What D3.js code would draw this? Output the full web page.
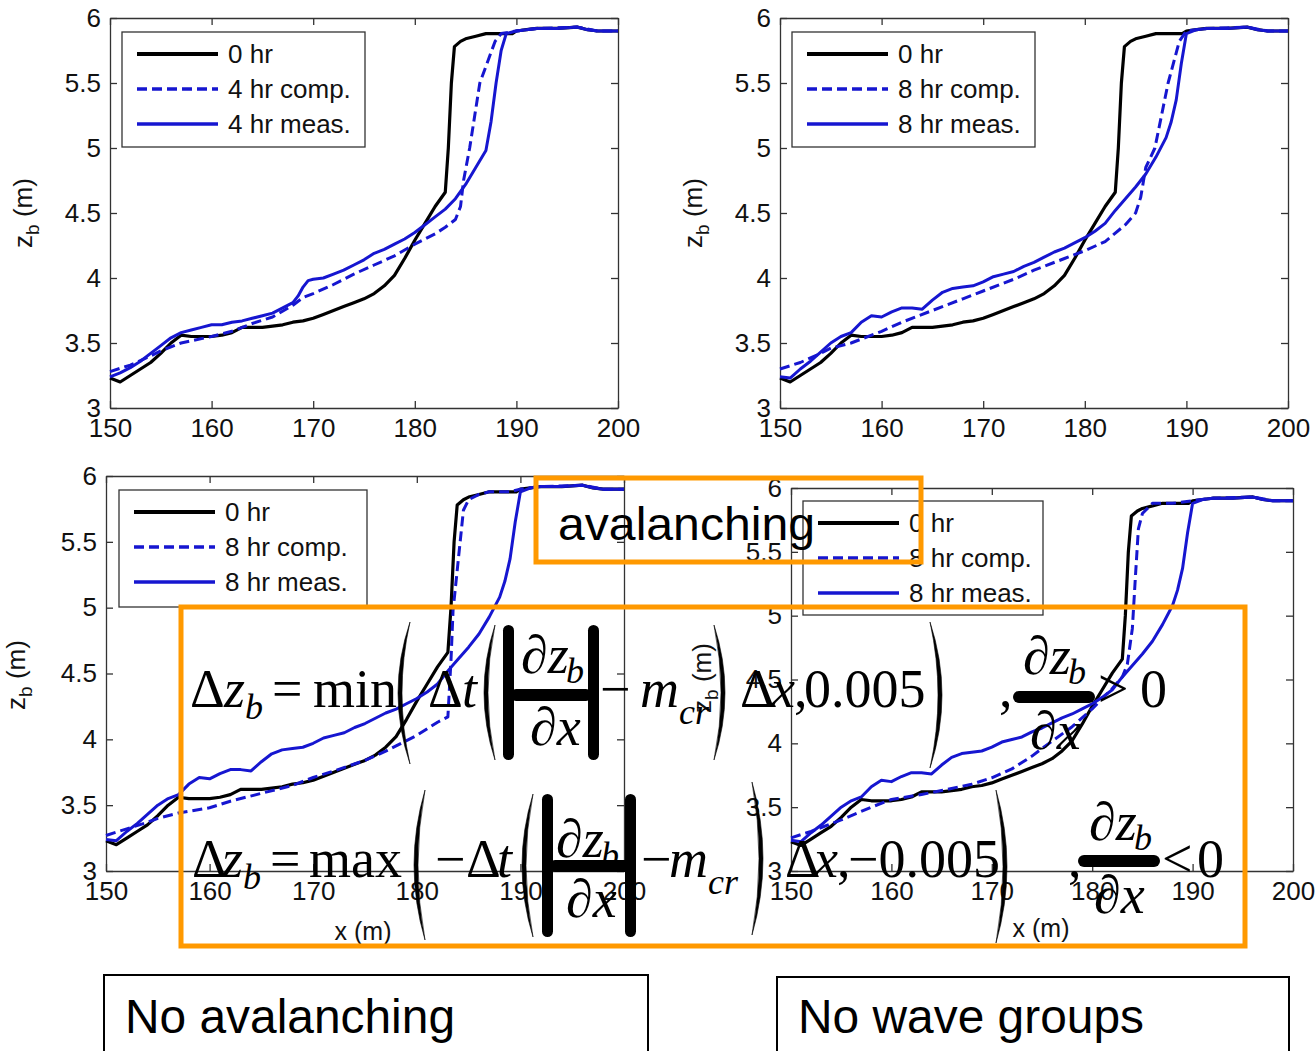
<!DOCTYPE html>
<html>
<head>
<meta charset="utf-8">
<script src="https://cdn.jsdelivr.net/npm/d3@7"></script>
<style>
  body { margin: 0; background: #fff; }
  svg { display: block; }
</style>
</head>
<body>
<svg id="chart" width="1315" height="1051"></svg>
<script>
// ---- data: bed profiles z_b (m) against cross-shore distance x (m) ----
const xTicks = [150, 160, 170, 180, 190, 200];
const zTicks = [3, 3.5, 4, 4.5, 5, 5.5, 6];

// initial profile
const profile0hr = [[150,3.23],[151,3.2],[152,3.25],[153,3.3],[154,3.35],[155,3.42],[156,3.5],[157,3.56],[158,3.55],[159,3.55],[160,3.55],[161,3.56],[162,3.58],[163,3.62],[164,3.62],[165,3.62],[166,3.63],[167,3.64],[168,3.66],[169,3.67],[170,3.69],[171,3.72],[172,3.75],[173,3.78],[174,3.81],[175,3.84],[176,3.88],[177,3.94],[178,4.02],[179,4.15],[180,4.29],[181,4.42],[182,4.55],[183,4.66],[183.3,5.0],[183.6,5.5],[183.9,5.78],[184.5,5.82],[185,5.84],[186,5.86],[187,5.88],[188,5.88],[189,5.88],[189.6,5.88],[190,5.9],[191,5.91],[192,5.92],[194,5.92],[196,5.93],[197,5.91],[198,5.9],[200,5.9]];

// 4 hr, full model
const comp4hr = [[150,3.28],[152,3.33],[154,3.4],[155,3.44],[157,3.5],[160,3.55],[162,3.59],[164,3.65],[166,3.7],[168,3.79],[169,3.85],[170,3.88],[172,3.95],[174,4.03],[176,4.1],[178,4.17],[180,4.26],[182,4.34],[183,4.39],[184,4.45],[184.5,4.55],[184.8,4.75],[185.4,5.0],[186.4,5.5],[187.9,5.82],[188.5,5.88],[190,5.9],[192,5.92],[196,5.93],[198,5.9],[200,5.9]];
const meas4hr = [[150,3.24],[151,3.27],[152,3.31],[153,3.36],[154,3.42],[155,3.48],[156,3.54],[157,3.58],[158,3.6],[159,3.62],[160,3.64],[161,3.64],[162,3.66],[163,3.67],[164,3.69],[165,3.71],[166,3.73],[167,3.77],[168,3.81],[168.5,3.86],[169,3.93],[169.5,3.98],[170,3.99],[171,4.0],[172,4.03],[173,4.06],[174,4.1],[175,4.14],[176,4.19],[177,4.22],[178,4.26],[179,4.3],[180,4.35],[181,4.41],[182,4.47],[183,4.53],[184,4.61],[185,4.72],[186,4.85],[187,4.98],[187.5,5.2],[188,5.5],[188.5,5.75],[189,5.88],[190,5.9],[191,5.91],[192,5.92],[194,5.92],[196,5.93],[197,5.91],[198,5.9],[200,5.9]];

// 8 hr, full model
const comp8hr = [[150,3.3],[152,3.35],[154,3.42],[155,3.46],[157,3.5],[158,3.53],[160,3.59],[162,3.66],[165,3.75],[168,3.84],[170,3.9],[173,3.99],[175,4.06],[178,4.15],[180,4.21],[182,4.28],[184,4.41],[185,4.5],[185.5,4.62],[186,4.85],[186.9,5.0],[188.2,5.5],[189.3,5.82],[190,5.9],[192,5.92],[196,5.93],[198,5.9],[200,5.9]];
const meas8hr = [[150,3.24],[151,3.23],[152,3.3],[153,3.36],[154,3.43],[155,3.5],[156,3.55],[157,3.58],[158,3.66],[159,3.71],[160,3.7],[161,3.74],[162,3.77],[163,3.77],[164,3.76],[165,3.83],[166,3.89],[167,3.92],[168,3.93],[169,3.94],[170,3.97],[171,4.01],[172,4.03],[173,4.05],[174,4.09],[175,4.12],[176,4.16],[177,4.2],[178,4.23],[179,4.27],[180,4.31],[181,4.36],[182,4.42],[183,4.52],[184,4.61],[185,4.7],[186,4.8],[187,4.93],[188,5.08],[188.5,5.2],[189,5.37],[189.5,5.65],[190,5.88],[191,5.91],[192,5.92],[194,5.92],[196,5.93],[197,5.91],[198,5.9],[200,5.9]];

// 8 hr, model without avalanching
const comp8hrNoAval = [[150,3.27],[152,3.32],[154,3.37],[155,3.4],[157,3.44],[160,3.48],[162,3.53],[165,3.59],[168,3.65],[170,3.71],[172,3.76],[175,3.84],[177,3.91],[178,3.95],[180,4.03],[182,4.13],[183,4.17],[183.3,4.6],[183.5,4.98],[184,5.36],[184.5,5.74],[185,5.82],[186,5.86],[187,5.88],[189,5.88],[190,5.9],[192,5.92],[196,5.93],[198,5.9],[200,5.9]];

// 8 hr, model without wave groups
const comp8hrNoGroups = [[150,3.26],[152,3.31],[155,3.4],[158,3.5],[160,3.56],[163,3.6],[165,3.63],[168,3.68],[170,3.73],[172,3.8],[174,3.9],[175,3.96],[178,4.13],[180,4.27],[182,4.43],[183,4.52],[183.5,4.62],[184,4.9],[184.3,5.3],[184.6,5.68],[185,5.8],[186,5.88],[188,5.88],[190,5.9],[192,5.92],[196,5.93],[198,5.9],[200,5.9]];

const legend4 = ["0 hr", "4 hr comp.", "4 hr meas."];
const legend8 = ["0 hr", "8 hr comp.", "8 hr meas."];

// ---- layout ----
const BLUE = "#1616d0";
const ORANGE = "#ff9900";
const SANS = "'Liberation Sans', Arial, Helvetica, sans-serif";
const SERIF = "'Liberation Serif', 'Times New Roman', Times, serif";

const panels = [
  { box: [110, 618, 18, 408], series: [profile0hr, comp4hr, meas4hr], names: legend4,
    legend: [122, 32, 243, 115], ylab: [32, 213], xlab: null },
  { box: [780, 1288, 18, 408], series: [profile0hr, comp8hr, meas8hr], names: legend8,
    legend: [792, 32, 243, 115], ylab: [702, 213], xlab: null },
  { box: [106, 624, 476, 871], series: [profile0hr, comp8hrNoAval, meas8hr], names: legend8,
    legend: [119, 490, 248, 117], ylab: [25, 675], xlab: [363, 940] },
  { box: [791, 1293, 488, 871], series: [profile0hr, comp8hrNoGroups, meas8hr], names: legend8,
    legend: [803, 501, 240, 114], ylab: [711, 678], xlab: [1041, 937] }
];

const styles = [
  { stroke: "#000", width: 3.2, dash: null },
  { stroke: BLUE, width: 3, dash: "10,5" },
  { stroke: BLUE, width: 3, dash: null }
];

const svg = d3.select("#chart");

panels.forEach(p => {
  const [x0, x1, y0, y1] = p.box;
  const x = d3.scaleLinear().domain([150, 200]).range([x0, x1]);
  const y = d3.scaleLinear().domain([3, 6]).range([y1, y0]);
  const g = svg.append("g");

  const fmt = d => String(d);
  g.append("g").attr("transform", `translate(0,${y1})`)
    .call(d3.axisBottom(x).tickValues(xTicks).tickFormat(fmt).tickSizeInner(-7).tickSizeOuter(0).tickPadding(11));
  g.append("g").attr("transform", `translate(${x0},0)`)
    .call(d3.axisLeft(y).tickValues(zTicks).tickFormat(fmt).tickSizeInner(-7).tickSizeOuter(0).tickPadding(9));
  g.append("g").attr("transform", `translate(0,${y0})`)
    .call(d3.axisTop(x).tickValues(xTicks).tickFormat("").tickSizeInner(-7).tickSizeOuter(0));
  g.append("g").attr("transform", `translate(${x1},0)`)
    .call(d3.axisRight(y).tickValues(zTicks).tickFormat("").tickSizeInner(-7).tickSizeOuter(0));
  g.selectAll(".domain, .tick line").attr("stroke", "#333").attr("stroke-width", 1.3);
  g.selectAll(".tick text").attr("font-family", SANS).attr("font-size", 26).attr("fill", "#111");

  const line = d3.line().x(d => x(d[0])).y(d => y(d[1]));
  p.series.forEach((s, i) => {
    g.append("path").datum(s).attr("d", line)
      .attr("fill", "none").attr("stroke", styles[i].stroke)
      .attr("stroke-width", styles[i].width)
      .attr("stroke-dasharray", styles[i].dash)
      .attr("stroke-linejoin", "round");
  });

  // legend
  const [lx, ly, lw, lh] = p.legend;
  const lg = g.append("g");
  lg.append("rect").attr("x", lx).attr("y", ly).attr("width", lw).attr("height", lh)
    .attr("fill", "#fff").attr("stroke", "#333").attr("stroke-width", 1.3);
  const rowY = [22, 57, 92];
  p.names.forEach((name, i) => {
    const yy = ly + rowY[i];
    lg.append("line").attr("x1", lx + 15).attr("x2", lx + 96).attr("y1", yy).attr("y2", yy)
      .attr("stroke", styles[i].stroke).attr("stroke-width", i === 0 ? 4 : 3.5)
      .attr("stroke-dasharray", styles[i].dash);
    lg.append("text").attr("x", lx + 106).attr("y", yy + 9)
      .attr("font-family", SANS).attr("font-size", 26).attr("fill", "#111").text(name);
  });

  // axis titles
  const [yx, yy] = p.ylab;
  const yt = g.append("text").attr("transform", `translate(${yx},${yy}) rotate(-90)`)
    .attr("text-anchor", "middle").attr("font-family", SANS).attr("font-size", 26).attr("fill", "#111");
  yt.append("tspan").text("z");
  yt.append("tspan").attr("font-size", 19).attr("dy", 7).text("b");
  yt.append("tspan").attr("dy", -7).text(" (m)");
  if (p.xlab) {
    g.append("text").attr("x", p.xlab[0]).attr("y", p.xlab[1]).attr("text-anchor", "middle")
      .attr("font-family", SANS).attr("font-size", 25).attr("fill", "#111").text("x (m)");
  }
});

// ---- annotation boxes ----
const ann = svg.append("g");
ann.append("rect").attr("x", 536).attr("y", 478).attr("width", 385).attr("height", 84)
  .attr("fill", "none").attr("stroke", ORANGE).attr("stroke-width", 5);
ann.append("rect").attr("x", 181).attr("y", 607).attr("width", 1064).attr("height", 339)
  .attr("fill", "none").attr("stroke", ORANGE).attr("stroke-width", 5);
ann.append("text").attr("x", 558).attr("y", 540).attr("font-family", SANS).attr("font-size", 46)
  .attr("textLength", 257).attr("lengthAdjust", "spacingAndGlyphs").attr("fill", "#000").text("avalanching");

ann.append("rect").attr("x", 104).attr("y", 975).attr("width", 544).attr("height", 100)
  .attr("fill", "#fff").attr("stroke", "#000").attr("stroke-width", 2);
ann.append("rect").attr("x", 777).attr("y", 977).attr("width", 512).attr("height", 100)
  .attr("fill", "#fff").attr("stroke", "#000").attr("stroke-width", 2);
ann.append("text").attr("x", 125).attr("y", 1033).attr("font-family", SANS).attr("font-size", 48)
  .attr("textLength", 330).attr("lengthAdjust", "spacingAndGlyphs").attr("fill", "#000").text("No avalanching");
ann.append("text").attr("x", 798).attr("y", 1033).attr("font-family", SANS).attr("font-size", 48)
  .attr("textLength", 346).attr("lengthAdjust", "spacingAndGlyphs").attr("fill", "#000").text("No wave groups");

// ---- avalanching rule (two equations) ----
const eq = svg.append("g").attr("fill", "#000");
function t(x, y, s, size = 54, italic = false) {
  eq.append("text").attr("x", x).attr("y", y).attr("font-family", SERIF)
    .attr("font-size", size).attr("font-style", italic ? "italic" : "normal").text(s);
}
function paren(x, top, bot, w, left) {
  const mid = (top + bot) / 2, th = 4;
  let d;
  if (left) {
    d = `M${x + w},${top} Q${x - w},${mid} ${x + w},${bot} Q${x - w + 2 * th},${mid} ${x + w},${top} Z`;
  } else {
    d = `M${x},${top} Q${x + 2 * w},${mid} ${x},${bot} Q${x + 2 * w - 2 * th},${mid} ${x},${top} Z`;
  }
  eq.append("path").attr("d", d).attr("fill", "#000").attr("stroke", "#000").attr("stroke-width", 0.6);
}
function bar(x1, y1, x2, y2) {
  const w = x2 - x1, h = y2 - y1;
  eq.append("rect").attr("x", x1).attr("y", y1).attr("width", w).attr("height", h)
    .attr("rx", Math.min(w, h) / 2).attr("fill", "#000");
}

// first line: slope > 0
const B1 = 707;
t(190, B1, "Δ"); t(224, B1, "z", 54, true); t(245, B1 + 12, "b", 36, true);
t(272, B1, "="); t(313, B1, "min");
paren(398, 622, 764, 12, true);
t(428, B1, "Δ"); t(462, B1, "t", 54, true);
paren(484, 625, 760, 11, true);
bar(503, 625, 514, 760);
t(521, 673, "∂z", 54, true); t(566, 683, "b", 36, true);
bar(510, 689, 592, 701);
t(530, 745, "∂x", 54, true);
bar(588, 625, 599, 760);
t(600, B1, "−"); t(640, B1, "m", 54, true); t(679, B1 + 17, "cr", 36, true);
paren(714, 625, 760, 11, false);
t(740, B1, "Δ"); t(771, B1, "x", 54, true); t(794, B1, ","); t(804, B1, "0.005");
paren(930, 622, 768, 12, false);
t(999, B1, ",");
t(1023, 674, "∂z", 54, true); t(1068, 684, "b", 36, true);
bar(1013, 691, 1095, 703);
t(1030, 749, "∂x", 54, true);
t(1098, B1, ">"); t(1140, B1, "0");

// second line: slope < 0
const B2 = 877;
t(192, B2, "Δ"); t(222, B2, "z", 54, true); t(243, B2 + 12, "b", 36, true);
t(270, B2, "="); t(309, B2, "max");
paren(414, 790, 940, 11, true);
t(435, B2, "−"); t(466, B2, "Δ"); t(497, B2, "t", 54, true);
paren(522, 794, 937, 11, true);
bar(542, 794, 553, 937);
t(556, 857, "∂z", 54, true); t(601, 867, "b", 36, true);
bar(549, 860, 631, 872);
t(566, 917, "∂x", 54, true);
bar(625, 794, 636, 937);
t(641, B2, "−"); t(669, B2, "m", 54, true); t(708, B2 + 17, "cr", 36, true);
paren(752, 782, 935, 11, false);
t(785, B2, "Δ"); t(814, B2, "x", 54, true); t(837, B2, ","); t(848, B2, "−0.005");
paren(996, 790, 943, 11, false);
t(1068, B2, ",");
t(1089, 840, "∂z", 54, true); t(1134, 850, "b", 36, true);
bar(1078, 855, 1160, 867);
t(1094, 913, "∂x", 54, true);
t(1162, B2, "<"); t(1197, B2, "0");
</script>
</body>
</html>
